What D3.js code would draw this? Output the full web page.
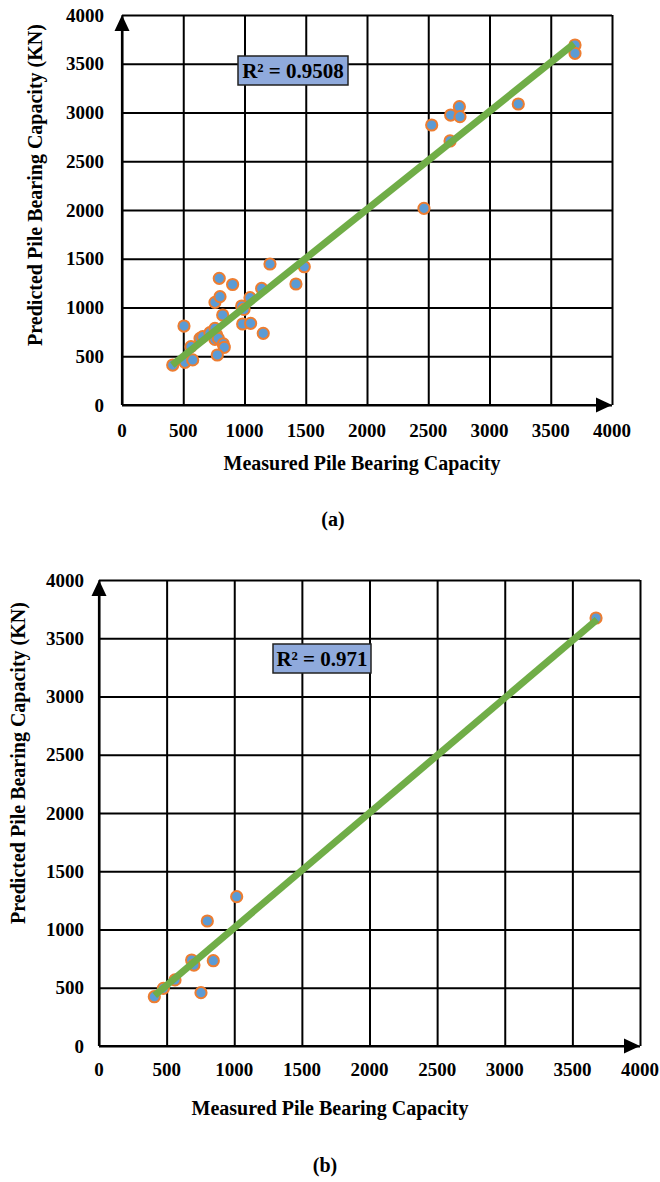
<!DOCTYPE html>
<html>
<head>
<meta charset="utf-8">
<title>Measured vs predicted pile bearing capacity</title>
<script src="https://cdn.jsdelivr.net/npm/d3@7"></script>
<style>
body { margin: 0; background: #fff; }
</style>
</head>
<body>
<script>
// axis ticks (same for both panels)
var ticks = [0, 500, 1000, 1500, 2000, 2500, 3000, 3500, 4000];

// panel (a) - measured / predicted
var measuredA = [414, 514, 577, 506, 563, 637, 659, 718, 759, 773, 759, 786, 827, 835, 778,
  822, 759, 800, 794, 903, 985, 1050, 977, 996, 1045, 1153, 1140, 1208, 1420, 1488,
  2465, 2528, 2678, 2683, 2754, 2759, 3235, 3698, 3698];
var predictedA = [410, 438, 462, 810, 598, 684, 701, 742, 786, 718, 673, 684, 626, 592, 513,
  923, 1053, 1111, 1299, 1236, 831, 838, 1015, 980, 1101, 735, 1196, 1446, 1241, 1418,
  2017, 2872, 2708, 2974, 3060, 2957, 3087, 3692, 3607];
var trendA = [[410, 410], [3690, 3705]];
var labelA = "R\u00b2 = 0.9508";

// panel (b)
var measuredB = [409, 476, 562, 685, 702, 754, 845, 801, 1018, 3675];
var predictedB = [423, 495, 567, 738, 695, 458, 732, 1073, 1282, 3674];
var trendB = [[412, 435], [3682, 3660]];
var labelB = "R\u00b2 = 0.971";

var font = "'Liberation Serif', 'Times New Roman', Tinos, 'DejaVu Serif', serif";

var svg = d3.select("body").append("svg")
  .attr("width", 660)
  .attr("height", 1182)
  .attr("font-family", font)
  .attr("font-weight", "bold");

svg.append("rect").attr("width", 660).attr("height", 1182).attr("fill", "#fff");

function addText(g) {
  return g.append("text").attr("font-family", font).attr("font-weight", "bold").attr("fill", "#000");
}

function drawPanel(p) {
  var x = d3.scaleLinear().domain([0, 4000]).range([p.left, p.right]);
  var y = d3.scaleLinear().domain([0, 4000]).range([p.bottom, p.top]);
  var g = svg.append("g");

  // grid
  g.append("g")
    .attr("transform", "translate(0," + p.bottom + ")")
    .call(d3.axisBottom(x).tickValues(ticks).tickSize(-(p.bottom - p.top)).tickFormat(""))
    .call(function(s) { s.select(".domain").remove(); });
  g.append("g")
    .attr("transform", "translate(" + p.left + ",0)")
    .call(d3.axisLeft(y).tickValues(ticks).tickSize(-(p.right - p.left)).tickFormat(""))
    .call(function(s) { s.select(".domain").remove(); });
  g.selectAll(".tick line").attr("stroke", "#000").attr("stroke-width", 2);

  // axes with arrow heads
  g.append("line").attr("x1", x(0)).attr("x2", x(4000) - 8)
    .attr("y1", y(0)).attr("y2", y(0)).attr("stroke", "#000").attr("stroke-width", 2.2);
  g.append("line").attr("x1", x(0)).attr("x2", x(0))
    .attr("y1", y(0)).attr("y2", y(4000) + 8).attr("stroke", "#000").attr("stroke-width", 2.2);
  g.append("path")
    .attr("d", "M" + x(4000) + "," + y(0) + "l-16,-7.5v15z").attr("fill", "#000");
  g.append("path")
    .attr("d", "M" + x(0) + "," + y(4000) + "l-7.5,16h15z").attr("fill", "#000");

  // tick labels
  ticks.forEach(function(d) {
    addText(g).attr("x", x(d)).attr("y", p.xLabelY).attr("dy", "0.35em")
      .attr("text-anchor", "middle").attr("font-size", 19).text(d);
    addText(g).attr("x", p.yLabelX).attr("y", y(d)).attr("dy", "0.35em")
      .attr("text-anchor", "end").attr("font-size", 19).text(d);
  });

  // points
  g.selectAll("circle").data(p.mx).enter().append("circle")
    .attr("cx", function(d) { return x(d); })
    .attr("cy", function(d, i) { return y(p.py[i]); })
    .attr("r", 5.6)
    .attr("fill", "#5B9BD5")
    .attr("stroke", "#ED7D31")
    .attr("stroke-width", 2);

  // trend line
  g.append("path")
    .attr("d", d3.line().x(function(d) { return x(d[0]); }).y(function(d) { return y(d[1]); })(p.trend))
    .attr("stroke", "#70AD47").attr("stroke-width", 7).attr("fill", "none");

  // R2 box
  var bx = g.append("g").attr("transform", "translate(" + p.boxX + "," + p.boxY + ")");
  bx.append("rect").attr("x", -p.boxW / 2).attr("y", -14.5).attr("width", p.boxW).attr("height", 29)
    .attr("fill", "#8FAADC").attr("stroke", "#222").attr("stroke-width", 1.5);
  addText(bx).attr("text-anchor", "middle").attr("dy", "0.36em")
    .attr("font-size", 21).text(p.label);

  // titles
  addText(g)
    .attr("transform", "translate(" + p.yTitleX + "," + p.yTitleY + ") rotate(-90)")
    .attr("text-anchor", "middle").attr("dy", "0.35em").attr("font-size", 20)
    .text("Predicted Pile Bearing Capacity (KN)");
  addText(g)
    .attr("x", p.xTitleX).attr("y", p.xTitleY).attr("dy", "0.35em")
    .attr("text-anchor", "middle").attr("font-size", 20)
    .text("Measured Pile Bearing Capacity");
  addText(g)
    .attr("x", p.capX).attr("y", p.capY).attr("dy", "0.35em")
    .attr("text-anchor", "middle").attr("font-size", 20)
    .text(p.caption);
}

drawPanel({
  left: 122, right: 612, top: 15, bottom: 405,
  mx: measuredA, py: predictedA, trend: trendA, label: labelA,
  xLabelY: 430, yLabelX: 104,
  boxX: 293, boxY: 70.5, boxW: 110,
  yTitleX: 35, yTitleY: 185,
  xTitleX: 362, xTitleY: 463,
  capX: 333, capY: 519, caption: "(a)"
});

drawPanel({
  left: 99, right: 640, top: 580, bottom: 1046,
  mx: measuredB, py: predictedB, trend: trendB, label: labelB,
  xLabelY: 1069, yLabelX: 84,
  boxX: 322, boxY: 658.5, boxW: 98,
  yTitleX: 18, yTitleY: 763,
  xTitleX: 330, xTitleY: 1108,
  capX: 325, capY: 1165, caption: "(b)"
});
</script>
</body>
</html>
